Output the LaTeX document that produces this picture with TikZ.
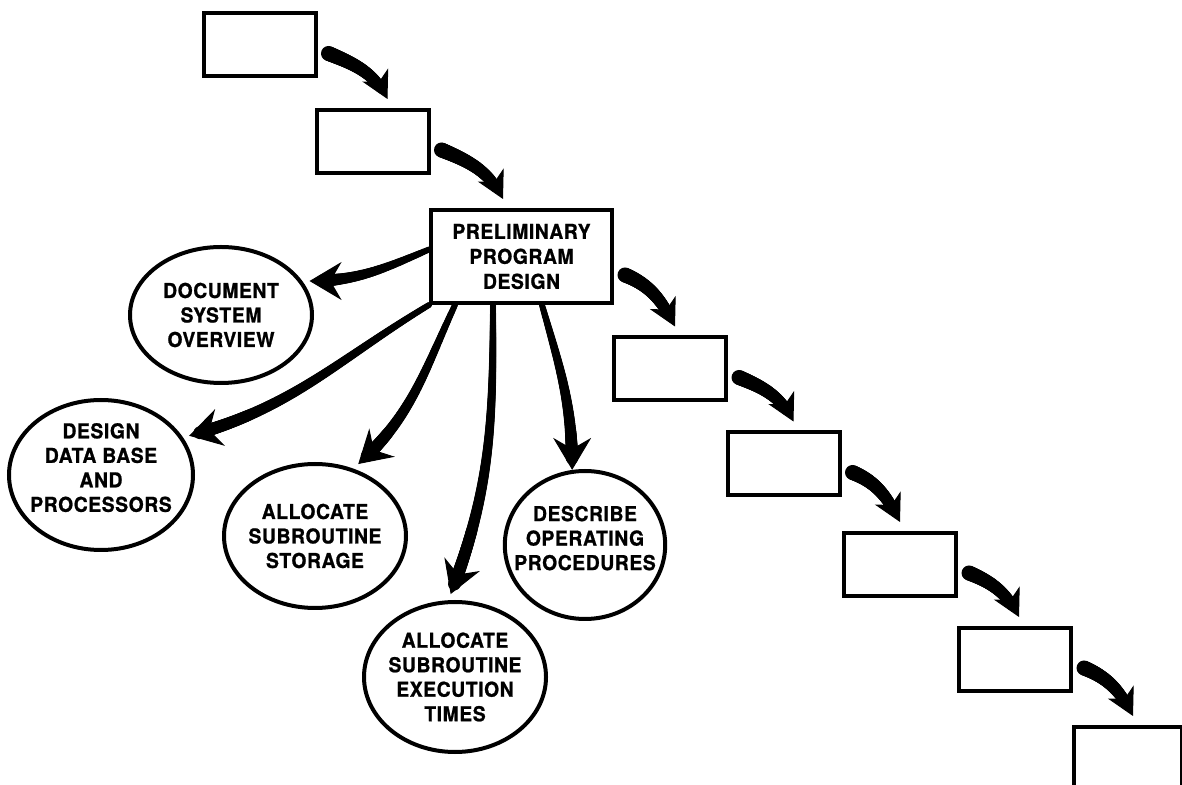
\documentclass[tikz,border=0pt]{standalone}
\usepackage{fontspec}
\newfontfamily\lblfont[LetterSpace=3, FakeStretch=0.94, FakeBold=1]{TeX Gyre Heros}
\usetikzlibrary{shapes.geometric, arrows.meta, decorations.markings}

\tikzset{
  stagebox/.style={draw, line width=4pt, minimum width=112pt, minimum height=63pt, inner sep=0pt},
  mainbox/.style={stagebox, minimum width=181pt, minimum height=93pt, align=center,
    font=\lblfont\bfseries\fontsize{20.5}{25}\selectfont},
  task/.style={ellipse, draw, line width=4pt, inner sep=-14pt, outer sep=8pt, align=center,
    font=\lblfont\bfseries\fontsize{20.5}{24.5}\selectfont},
  % brush stroke that goes from width #1 to width #2
  taper/.style 2 args={postaction={decorate, decoration={markings,
    mark=between positions 0 and -12pt step 1pt with {
      \pgfmathsetmacro\brushr{0.5*(#1+(#2-#1)*\pgfkeysvalueof{/pgf/decoration/mark info/distance from start}/\pgfdecoratedpathlength)}
      \fill (0,0) circle (\brushr pt);}}}},
  chain/.style={taper={15}{10}, line width=1pt, -{Stealth[length=27pt, width=29pt, inset=8pt]}},
  fan/.style={taper={6}{13}, line width=1pt, -{Stealth[length=32pt, width=38pt, inset=11pt]}},
}

\begin{document}
\begin{tikzpicture}[x=1pt, y=1pt]
\useasboundingbox (0,0) rectangle (1182,784);

% the stages of the waterfall
\foreach \n/\x/\y in {b1/259.5/739, b2/372.5/642.5, b4/670/415, b5/783.5/320, b6/900/219.5, b7/1015/124.5}
  \node[stagebox] (\n) at (\x,\y) {};
\node[stagebox, minimum width=108pt] (b8) at (1128,25.5) {};
\node[mainbox] (main) at (521.5,527.5) {PRELIMINARY\\PROGRAM\\DESIGN};

% the tasks of the design step
\node[task, minimum width=182pt, minimum height=136pt] (docov) at (221,469) {DOCUMENT\\SYSTEM\\OVERVIEW};
\node[task, minimum width=184pt, minimum height=150pt, text depth=15pt] (dbase) at (101,309) {DESIGN\\DATA BASE\\AND\\PROCESSORS};
\node[task, minimum width=182pt, minimum height=144pt] (store) at (315,248) {ALLOCATE\\SUBROUTINE\\STORAGE};
\node[task, minimum width=182pt, minimum height=150pt] (exec) at (455,107) {ALLOCATE\\SUBROUTINE\\EXECUTION\\TIMES};
\node[task, minimum width=156pt, minimum height=148pt, text depth=14pt] (procs) at (585,239) {DESCRIBE\\OPERATING\\PROCEDURES};

% stage to stage
\foreach \a/\b/\up/\dx in {b1/b2/25/73, b2/main/25/74, main/b4/30/63, b4/b5/25/68, b5/b6/25/58, b6/b7/25/62, b7/b8/25/61}
  \draw[chain] ([shift={(11,\up)}]\a.south east) to[out=-22, in=117] ([shift={(\dx,9)}]\b.north west);

% design step to its tasks
\draw[fan] ([yshift=7pt]main.west) to[out=203, in=0] (docov.21);
\draw[fan] (main.south west) to[out=211, in=15] (dbase.24);
\draw[fan] ([xshift=26pt]main.south west) to[out=245, in=42] (store.59);
\draw[fan] ([xshift=64pt]main.south west) to[out=270, in=69] (exec.93);
\draw[fan] ([xshift=113pt]main.south west) to[out=-74, in=90] ([yshift=-6pt]procs.99);
\end{tikzpicture}
\end{document}
